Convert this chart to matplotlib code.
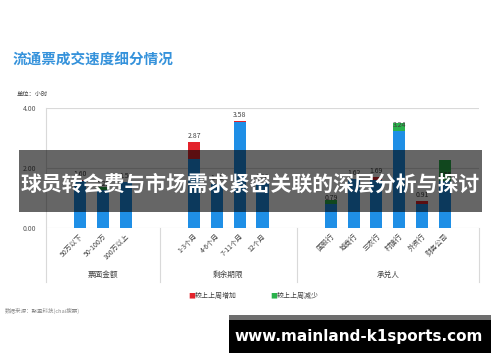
import matplotlib
matplotlib.use("Agg")
import matplotlib.pyplot as plt
from matplotlib.patches import Rectangle

plt.rcParams['font.family'] = ['Noto Sans CJK SC', 'DejaVu Sans']

# ---------------- data ----------------
groups = ["票面金额", "剩余期限", "承兑人"]
group_cats = [
    ["50万以下", "50-100万", "100万以上"],
    ["1-3个月", "4-6个月", "7-11个月", "12个月"],
    ["国股行", "城商行", "三农行", "村镇行", "外资行", "财务公司"],
]
current = [
    [1.60, 1.25, 1.52],
    [2.87, 1.45, 3.58, 1.50],
    [0.79, 1.62, 1.69, 3.24, 0.91, 1.55],
]
# change vs last-last week: positive = increase (red), negative = decrease (green)
change = [
    [0.05, -0.10, 0.0],
    [0.58, 0.0, 0.05, 0.0],
    [-0.13, 0.0, 0.10, -0.25, 0.12, -0.72],
]
yticks = [0, 2, 4]
ytick_labels = ["0.00", "2.00", "4.00"]
legend_labels = ["较上上周增加", "较上上周减少"]

BLUE = "#1F8FE6"
RED = "#E3232B"
GREEN = "#2BB24C"

fig = plt.figure(figsize=(5.0, 3.62), dpi=100)
W, H = 500, 362
ax = fig.add_axes([46 / W, 1 - 228 / H, (479 - 46) / W, 120 / H])

# slot layout: one blank slot before and after each group
pos = []
bounds = [0]
start = 0
for cats in group_cats:
    for i in range(len(cats)):
        pos.append(start + 1 + i + 0.5)
    start += len(cats) + 2
    bounds.append(start)

cats_flat = [c for g in group_cats for c in g]
cur_flat = [v for g in current for v in g]
chg_flat = [v for g in change for v in g]

bw = 0.53
for x, v, d in zip(pos, cur_flat, chg_flat):
    if d > 0:
        ax.bar(x, v - d, width=bw, color=BLUE, zorder=3)
        ax.bar(x, d, width=bw, bottom=v - d, color=RED, zorder=3)
    elif d < 0:
        ax.bar(x, v, width=bw, color=BLUE, zorder=3)
        ax.bar(x, -d, width=bw, bottom=v, color=GREEN, zorder=3)
    else:
        ax.bar(x, v, width=bw, color=BLUE, zorder=3)
    ax.annotate(f"{v:.2f}", (x, v), xytext=(0, 1.5), textcoords="offset points",
                ha="center", va="bottom", fontsize=5, color="#404040", zorder=4)

ax.set_xlim(bounds[0], bounds[-1])
ax.set_ylim(0, 4)
for s in ax.spines.values():
    s.set_visible(False)
ax.set_xticks([])
ax.set_yticks(yticks)
ax.set_yticklabels(ytick_labels, fontsize=5, color="#595959")
ax.tick_params(axis="y", length=0, pad=7)
for yv in yticks:
    ax.axhline(yv, color="#d9d9d9", lw=0.8, zorder=1)

tr = ax.get_xaxis_transform()
# left axis line extending into category area
ax.plot([0, 0], [1, -0.45], transform=tr, color="#d9d9d9", lw=0.8, clip_on=False)
for b in bounds[1:]:
    ax.plot([b, b], [0, -0.45], transform=tr, color="#d9d9d9", lw=0.8, clip_on=False)

for x, c in zip(pos, cats_flat):
    ax.text(x + 0.1, -0.06, c, transform=tr, rotation=45, ha="right", va="center",
            rotation_mode="anchor", fontsize=5, color="#404040")
for gi, g in enumerate(groups):
    cx = (bounds[gi] + bounds[gi + 1]) / 2
    ax.text(cx, -0.39, g, transform=tr, ha="center", va="center",
            fontsize=5.5, color="#404040")

# titles and notes
fig.text(13 / W, 1 - 60 / H, "流通票成交速度细分情况", fontsize=10.5, fontweight="bold",
         color="#3592DB", ha="left", va="center")
fig.text(17 / W, 1 - 94 / H, "单位：小时", fontsize=4.5, color="#404040",
         ha="left", va="center")

# legend
fig.text(188 / W, 1 - 296 / H, "■", fontsize=5, color=RED, ha="left", va="center")
fig.text(195 / W, 1 - 296 / H, legend_labels[0], fontsize=5, color="#404040", ha="left", va="center")
fig.text(270 / W, 1 - 296 / H, "■", fontsize=5, color=GREEN, ha="left", va="center")
fig.text(277 / W, 1 - 296 / H, legend_labels[1], fontsize=5, color="#404040", ha="left", va="center")

fig.text(5 / W, 1 - 311 / H, "数据来源：聚盈科技(chai搜票)", fontsize=4, color="#8c8c8c",
         style="italic", ha="left", va="center")

# overlay banner
fig.add_artist(Rectangle((19 / W, 1 - 212 / H), (482 - 19) / W, 62 / H,
                         transform=fig.transFigure, facecolor="black", alpha=0.6,
                         edgecolor="none", zorder=10))
fig.text(250 / W, 1 - 184 / H, "球员转会费与市场需求紧密关联的深层分析与探讨",
         fontsize=15, fontweight="bold", color="white", ha="center", va="center", zorder=11)

# watermark box
fig.add_artist(Rectangle((229 / W, 1 - 320 / H), (491 - 229) / W, 5 / H,
                         transform=fig.transFigure, facecolor="#6e6e6e",
                         edgecolor="none", zorder=10))
fig.add_artist(Rectangle((229 / W, 1 - 353 / H), (491 - 229) / W, 33 / H,
                         transform=fig.transFigure, facecolor="black",
                         edgecolor="none", zorder=10))
fig.text(359 / W, 1 - 337 / H, "www.mainland-k1sports.com", fontsize=11,
         fontweight="bold", color="white", ha="center", va="center", zorder=11,
         family=["DejaVu Sans"])

fig.savefig("out.png", dpi=100)
